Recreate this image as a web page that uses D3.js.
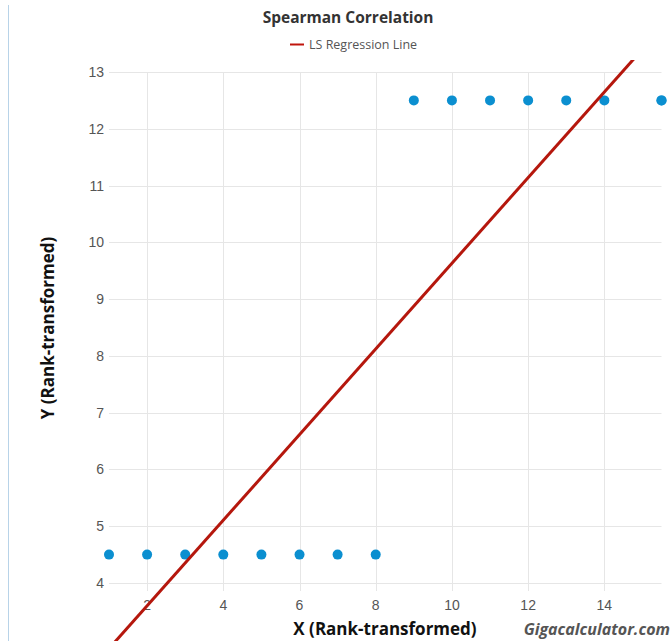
<!DOCTYPE html>
<html><head><meta charset="utf-8">
<script src="https://cdn.jsdelivr.net/npm/d3@7"></script>
<style>html,body{margin:0;padding:0;background:#fff;}svg{display:block;}</style>
</head><body>
<script>
const xRanks = [1,2,3,4,5,6,7,8,9,10,11,12,13,14,15.5,15.5];
const yRanks = [4.5,4.5,4.5,4.5,4.5,4.5,4.5,4.5,12.5,12.5,12.5,12.5,12.5,12.5,12.5,12.5];
const xTicks = [2,4,6,8,10,12,14];
const yTicks = [4,5,6,7,8,9,10,11,12,13];
const title = "Spearman Correlation";
const legendLabel = "LS Regression Line";

const W = 672, H = 641;
const svg = d3.select("body").append("svg").attr("width", W).attr("height", H);
const x = d3.scaleLinear().domain([1, 15.5]).range([109, 661.5]);
const y = d3.scaleLinear().domain([4, 13]).range([583, 72]);

// left border line
svg.append("line").attr("x1",8.5).attr("x2",8.5).attr("y1",5).attr("y2",H)
  .attr("stroke","#b8d3e8").attr("stroke-width",1);

// grid
svg.append("g").selectAll("line").data(yTicks).join("line")
  .attr("x1", x(1)).attr("x2", x(15.5)).attr("y1", d=>Math.round(y(d))+0.5).attr("y2", d=>Math.round(y(d))+0.5)
  .attr("stroke","#e6e6e6");
svg.append("g").selectAll("line").data(xTicks).join("line")
  .attr("y1", y(13)).attr("y2", y(4)+8).attr("x1", d=>Math.round(x(d))+0.5).attr("x2", d=>Math.round(x(d))+0.5)
  .attr("stroke","#e6e6e6");

// tick labels
svg.append("g").selectAll("text").data(yTicks).join("text")
  .attr("x", 104).attr("y", d=>y(d)+5).attr("text-anchor","end")
  .attr("font-family","Liberation Sans, Arial, sans-serif").attr("font-size",14).attr("fill","#555")
  .text(d=>d);
svg.append("g").selectAll("text").data(xTicks).join("text")
  .attr("x", d=>x(d)).attr("y", 610).attr("text-anchor","middle")
  .attr("font-family","Liberation Sans, Arial, sans-serif").attr("font-size",14).attr("fill","#555")
  .text(d=>d);

// points
svg.append("g").selectAll("circle").data(xRanks.map((v,i)=>[v,yRanks[i]])).join("circle")
  .attr("cx", d=>x(d[0])).attr("cy", d=>y(d[1])).attr("r", 5).attr("fill","#0b8fd0");

// regression
const mx = d3.mean(xRanks), my = d3.mean(yRanks);
const sxy = d3.sum(xRanks.map((v,i)=>(v-mx)*(yRanks[i]-my)));
const sxx = d3.sum(xRanks.map(v=>(v-mx)*(v-mx)));
const slope = sxy/sxx, icpt = my - slope*mx;
svg.append("clipPath").attr("id","clip").append("rect").attr("x",0).attr("y",60).attr("width",W).attr("height",H-60);
svg.append("line").attr("clip-path","url(#clip)")
  .attr("x1", x(0)).attr("y1", y(icpt)).attr("x2", x(17)).attr("y2", y(icpt+slope*17))
  .attr("stroke","#b5170d").attr("stroke-width",3);

// title & legend
svg.append("text").attr("x",348).attr("y",23).attr("text-anchor","middle")
  .attr("font-family","Open Sans, sans-serif").attr("font-weight","bold").attr("font-size",15.5).attr("fill","#333")
  .text(title);
svg.append("line").attr("x1",290).attr("x2",304).attr("y1",44.5).attr("y2",44.5).attr("stroke","#c0150c").attr("stroke-width",2);
svg.append("text").attr("x",309).attr("y",48.5).attr("font-family","Open Sans, sans-serif").attr("font-size",12.5).attr("fill","#555")
  .text(legendLabel);

// axis titles
svg.append("text").attr("x",385).attr("y",635).attr("text-anchor","middle")
  .attr("font-family","Open Sans, sans-serif").attr("font-weight","bold").attr("font-size",17).attr("fill","#111")
  .text("X (Rank-transformed)");
svg.append("text").attr("transform","translate(54,328) rotate(-90)").attr("text-anchor","middle")
  .attr("font-family","Open Sans, sans-serif").attr("font-weight","bold").attr("font-size",17).attr("fill","#111")
  .text("Y (Rank-transformed)");
svg.append("text").attr("x",670).attr("y",635).attr("text-anchor","end")
  .attr("font-family","Open Sans, sans-serif").attr("font-weight","bold").attr("font-style","italic").attr("font-size",16).attr("fill","#555")
  .text("Gigacalculator.com");
</script>
</body></html>
